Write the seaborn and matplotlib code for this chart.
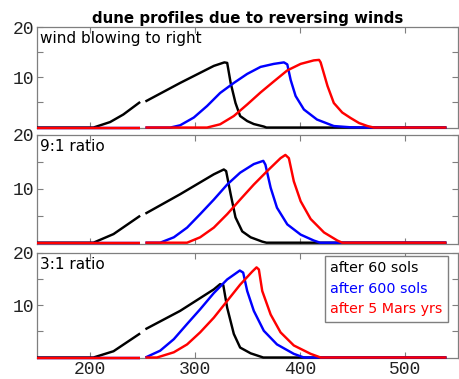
import numpy as np
import pandas as pd
import matplotlib
matplotlib.use("Agg")
import matplotlib.pyplot as plt
from matplotlib.lines import Line2D
import seaborn as sns

# ---------------- data ----------------
series_names = ["after 60 sols", "after 600 sols", "after 5 Mars yrs"]
series_colors = ["#000000", "#0000ff", "#ff0000"]
panel_labels = ["wind blowing to right", "9:1 ratio", "3:1 ratio"]
title = "dune profiles due to reversing winds"
x_ticks = [200, 300, 400, 500]
y_major = [10, 20]
y_minor = [5, 15]

# panel 1 (NaN marks the small break in every profile)
p1_black_x = [150, 203.6, 219.5, 232, 248, np.nan, 253, 286, 318, 328, 330.7, 334, 338.6, 343, 349.7, 356, 365.5, 368, 539]
p1_black_y = [0, 0, 1.1, 2.6, 5.1, np.nan, 5.2, 8.9, 12.3, 13.0, 12.9, 8.9, 4.9, 2.3, 1.3, 0.7, 0.2, 0, 0]
p1_blue_x = [150, 248, np.nan, 253, 276.7, 286, 299, 311.6, 324, 337, 349.7, 362.4, 375, 384.6, 387.8, 391, 395.7, 403.6, 416, 432, 448, 464, 539]
p1_blue_y = [0, 0, np.nan, 0, 0, 0.45, 2.0, 4.3, 6.9, 8.9, 10.7, 12.1, 12.7, 13.0, 12.6, 9.5, 6.3, 3.6, 1.6, 0.3, 0.05, 0, 0]
p1_red_x = [150, 248, np.nan, 253, 311.6, 324, 337, 349.7, 362.4, 375, 387.8, 400.5, 413, 418, 419.5, 426, 432, 440, 448, 456, 464, 470, 539]
p1_red_y = [0, 0, np.nan, 0, 0, 0.65, 2.3, 4.6, 7.0, 9.2, 11.4, 12.7, 13.4, 13.5, 13.0, 8.3, 4.9, 3.0, 1.9, 0.9, 0.3, 0, 0]

# panel 2
p2_black_x = [150, 203.6, 222.7, 248, np.nan, 253, 286, 318, 327.5, 329.7, 334, 338.6, 345, 353, 364, 368, 539]
p2_black_y = [0, 0, 1.6, 5.0, np.nan, 5.4, 9.0, 12.7, 13.6, 13.3, 9.0, 4.7, 2.1, 1.0, 0.2, 0, 0]
p2_blue_x = [150, 248, np.nan, 253, 267, 280, 292.6, 305, 318, 330.7, 343, 356, 365, 367, 372, 378, 387.8, 400.5, 413, 419, 539]
p2_blue_y = [0, 0, np.nan, 0, 0, 1.0, 2.8, 5.3, 8.0, 10.8, 13.0, 14.6, 15.2, 14.5, 10.2, 6.5, 3.4, 1.5, 0.4, 0, 0]
p2_red_x = [150, 248, np.nan, 253, 292.6, 305, 318, 330.7, 343, 356, 368.7, 381.4, 386, 389.3, 394, 400.5, 410, 422.7, 435.4, 440, 539]
p2_red_y = [0, 0, np.nan, 0, 0, 1.0, 2.8, 5.3, 8.0, 10.8, 13.3, 15.7, 16.3, 15.7, 11.4, 7.7, 4.4, 1.9, 0.4, 0, 0]

# panel 3
p3_black_x = [150, 203.6, 222.7, 248, np.nan, 253, 286, 318, 324, 327, 330.7, 337, 343, 353, 362, 365, 539]
p3_black_y = [0, 0, 1.2, 4.6, np.nan, 5.4, 8.9, 13.0, 14.0, 13.8, 9.5, 4.5, 1.9, 0.8, 0.2, 0, 0]
p3_blue_x = [150, 248, np.nan, 253, 267, 280, 292.6, 305, 318, 330.7, 342.7, 345.9, 349.7, 356, 365.5, 378, 394, 403.6, 539]
p3_blue_y = [0, 0, np.nan, 0, 1.3, 3.5, 6.4, 9.2, 12.3, 14.9, 16.6, 16.2, 12.7, 8.9, 5.1, 2.5, 0.7, 0, 0]
p3_red_x = [150, 248, np.nan, 253, 264, 280, 292.6, 305, 318, 330.7, 343, 354.5, 358.6, 360.8, 364, 372, 381.4, 394, 410, 419.5, 539]
p3_red_y = [0, 0, np.nan, 0, 0, 1.0, 2.5, 4.8, 7.6, 10.8, 13.9, 16.4, 17.2, 16.8, 12.7, 8.2, 4.8, 2.3, 0.7, 0, 0]

panels = [
    [(p1_black_x, p1_black_y), (p1_blue_x, p1_blue_y), (p1_red_x, p1_red_y)],
    [(p2_black_x, p2_black_y), (p2_blue_x, p2_blue_y), (p2_red_x, p2_red_y)],
    [(p3_black_x, p3_black_y), (p3_blue_x, p3_blue_y), (p3_red_x, p3_red_y)],
]

# ---------------- styling ----------------
sns.set_theme(style="white")
plt.rcParams["font.family"] = ["DejaVu Sans"]
SPINE = "#7f7f7f"

fig = plt.figure(figsize=(4.6, 3.79), dpi=100)
W, H = 460.0, 379.0
boxes = [(27.3, 128.3), (135.0, 243.5), (252.7, 358.3)]  # top, bottom in px
left_px, right_px = 37.0, 458.0

for i, (panel, (top, bot)) in enumerate(zip(panels, boxes)):
    ax = fig.add_axes([left_px / W, 1 - bot / H, (right_px - left_px) / W, (bot - top) / H])
    for name, color, (xs, ys) in zip(series_names, series_colors, panel):
        xs = np.asarray(xs, float)
        ys = np.asarray(ys, float)
        seg = np.cumsum(np.isnan(xs))
        ok = ~np.isnan(xs)
        df = pd.DataFrame({"x": xs[ok], "y": ys[ok], "seg": seg[ok]})
        for _, part in df.groupby("seg"):
            sns.lineplot(data=part, x="x", y="y", estimator=None, color=color,
                         linewidth=1.75, sort=False, legend=False, ax=ax,
                         clip_on=False, zorder=3, solid_capstyle="butt")
    ax.set_xlim(150, 550)
    ax.set_ylim(-0.15, 20)
    ax.set_xlabel("")
    ax.set_ylabel("")
    ax.set_xticks(x_ticks)
    ax.set_yticks(y_major)
    ax.set_yticks(y_minor, minor=True)
    ax.tick_params(axis="both", which="both", direction="in", top=True, right=True,
                   left=True, bottom=True, length=4, width=0.8, color=SPINE)
    ax.tick_params(axis="both", which="major", labelsize=13, pad=2, labelcolor="#222222")
    for lab in ax.get_yticklabels() + ax.get_xticklabels():
        lab.set_family("Liberation Mono")
    if i < 2:
        ax.tick_params(axis="x", labelbottom=False)
    for s in ax.spines.values():
        s.set_color(SPINE)
        s.set_linewidth(0.9)
    ax.text(0.008, 0.96, panel_labels[i], transform=ax.transAxes, ha="left", va="top",
            fontsize=11, color="black")
    if i == 0:
        ax.set_title(title, fontsize=10.8, fontweight="bold", pad=3, color="black")
    if i == 2:
        handles = [Line2D([], [], color=c, lw=0) for c in series_colors]
        leg = ax.legend(handles, series_names, loc="upper right",
                        bbox_to_anchor=(448.5 / W, 1 - 255.5 / H),
                        bbox_transform=fig.transFigure, fontsize=10.3,
                        handlelength=0, handletextpad=0, frameon=True, fancybox=False,
                        borderaxespad=0.0, labelspacing=0.45, borderpad=0.4)
        leg.get_frame().set_edgecolor(SPINE)
        leg.get_frame().set_linewidth(1.0)
        leg.get_frame().set_alpha(1.0)
        leg.set_zorder(5)
        for t, c in zip(leg.get_texts(), series_colors):
            t.set_color(c)

fig.savefig("out.png", dpi=100)
